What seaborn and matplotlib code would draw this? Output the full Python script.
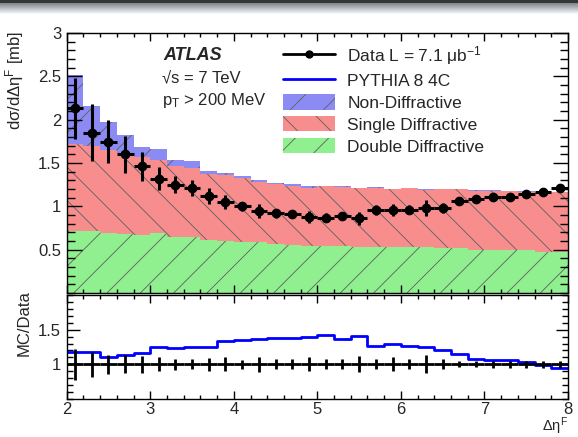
import numpy as np
import matplotlib
matplotlib.use("Agg")
import matplotlib.pyplot as plt
import seaborn as sns
from matplotlib.lines import Line2D
from matplotlib.patches import Patch
from matplotlib.ticker import MultipleLocator, FixedLocator, FuncFormatter

# ---------------- data ----------------
bin_edges = [2.0, 2.2, 2.4, 2.6, 2.8, 3.0, 3.2, 3.4, 3.6, 3.8, 4.0, 4.2, 4.4, 4.6, 4.8,
             5.0, 5.2, 5.4, 5.6, 5.8, 6.0, 6.2, 6.4, 6.6, 6.8, 7.0, 7.2, 7.4, 7.6, 7.8, 8.0]
x_centers = [2.1, 2.3, 2.5, 2.7, 2.9, 3.1, 3.3, 3.5, 3.7, 3.9, 4.1, 4.3, 4.5, 4.7, 4.9,
             5.1, 5.3, 5.5, 5.7, 5.9, 6.1, 6.3, 6.5, 6.7, 6.9, 7.1, 7.3, 7.5, 7.7, 7.9]

# PYTHIA 8 4C components [mb]
double_diff = [0.72, 0.71, 0.69, 0.68, 0.675, 0.69, 0.65, 0.645, 0.61, 0.60, 0.59, 0.585, 0.57, 0.55, 0.545,
               0.54, 0.54, 0.535, 0.535, 0.53, 0.53, 0.525, 0.52, 0.52, 0.50, 0.50, 0.50, 0.50, 0.47, 0.47]
single_diff = [1.00, 0.99, 0.96, 0.94, 0.895, 0.85, 0.81, 0.795, 0.76, 0.76, 0.74, 0.695, 0.69, 0.685, 0.67,
               0.69, 0.685, 0.675, 0.68, 0.67, 0.68, 0.665, 0.68, 0.68, 0.68, 0.68, 0.675, 0.67, 0.695, 0.69]
non_diff = [0.80, 0.46, 0.32, 0.20, 0.12, 0.12, 0.08, 0.08, 0.04, 0.03, 0.02, 0.02, 0.01, 0.02, 0.015,
            0.005, 0.005, 0.005, 0.005, 0.005, 0.005, 0.005, 0.005, 0.005, 0.005, 0.005, 0.005, 0.005, 0.005, 0.005]

# Data
data_val = [2.13, 1.85, 1.745, 1.60, 1.46, 1.32, 1.25, 1.21, 1.12, 1.05, 1.00, 0.95, 0.92, 0.91, 0.88,
            0.87, 0.89, 0.86, 0.96, 0.96, 0.96, 0.98, 0.98, 1.065, 1.085, 1.11, 1.11, 1.14, 1.17, 1.21]
data_err = [0.35, 0.33, 0.25, 0.21, 0.17, 0.13, 0.10, 0.09, 0.09, 0.08, 0.05, 0.08, 0.05, 0.05, 0.07,
            0.05, 0.05, 0.07, 0.06, 0.07, 0.05, 0.09, 0.06, 0.03, 0.03, 0.03, 0.04, 0.04, 0.04, 0.04]

# Ratio panel
mc_over_data = [1.176, 1.176, 1.105, 1.14, 1.16, 1.25, 1.24, 1.257, 1.257, 1.33, 1.35, 1.37, 1.38, 1.38, 1.40,
                1.43, 1.36, 1.41, 1.26, 1.295, 1.26, 1.25, 1.20, 1.15, 1.08, 1.057, 1.057, 1.03, 0.986, 0.94]
ratio_err = [0.22, 0.176, 0.135, 0.13, 0.125, 0.10, 0.08, 0.07, 0.095, 0.10, 0.067, 0.11, 0.07, 0.07, 0.10,
             0.07, 0.07, 0.115, 0.07, 0.10, 0.07, 0.13, 0.07, 0.045, 0.045, 0.055, 0.055, 0.055, 0.055, 0.055]
data_ratio = [1.0] * 30

legend_labels = ["Data L = 7.1 μb$^{-1}$", "PYTHIA 8 4C", "Non-Diffractive",
                 "Single Diffractive", "Double Diffractive"]

# ---------------- style ----------------
sns.set_style("ticks")
plt.rcParams['font.family'] = ['Liberation Sans', 'DejaVu Sans']
plt.rcParams['mathtext.fontset'] = 'custom'
plt.rcParams['mathtext.rm'] = 'Liberation Sans'
plt.rcParams['mathtext.it'] = 'Liberation Sans:italic'
plt.rcParams['mathtext.bf'] = 'Liberation Sans:bold'
plt.rcParams['hatch.linewidth'] = 0.6
plt.rcParams['axes.linewidth'] = 1.0
plt.rcParams['axes.edgecolor'] = 'black'

ND_COL, SD_COL, DD_COL = '#8b8bf3', '#f88d8d', '#90f090'
HATCH_COL = '#5f5f5f'
W, H = 578, 437
gfmt = FuncFormatter(lambda v, p: f'{v:g}')

fig = plt.figure(figsize=(5.78, 4.37), dpi=100)

# decorative dark bar on top of the picture
deco = fig.add_axes([0, 1 - 14 / H, 1, 14 / H])
deco.axis('off')
shade = np.concatenate([np.full(3, 0.22), np.linspace(0.55, 1.0, 11)])
deco.imshow(np.repeat(shade[:, None, None], 3, axis=2) * np.array([0.95, 0.97, 1.0]),
            aspect='auto', extent=[0, 1, 0, 1])

ax = fig.add_axes([66.7 / W, 1 - 293 / H, (568 - 66.7) / W, (293 - 33) / H])
axr = fig.add_axes([66.7 / W, 1 - 399 / H, (568 - 66.7) / W, (399 - 295) / H])

dd_top = np.array(double_diff)
sd_top = dd_top + np.array(single_diff)
nd_top = sd_top + np.array(non_diff)

layers = [(nd_top, ND_COL, '/'), (sd_top, SD_COL, '\\'), (dd_top, DD_COL, '/')]
for top, col, hatch in layers:
    n0 = len(ax.collections)
    sns.histplot(x=x_centers, weights=top, bins=bin_edges, element='step', fill=True,
                 color=col, alpha=1, linewidth=0, ax=ax)
    for coll in ax.collections[n0:]:
        coll.set_facecolor(col)
        coll.set_edgecolor(HATCH_COL)
        coll.set_linewidth(0)
        coll.set_hatch(hatch)

half_w = np.diff(bin_edges) / 2
ax.errorbar(x_centers, data_val, xerr=half_w, yerr=data_err, fmt='o', color='black',
            ms=6, elinewidth=2.2, capsize=0, zorder=5)

ax.set_xlim(2, 8)
ax.set_ylim(0, 3)
ax.set_xlabel('')
ax.set_ylabel('')
ax.yaxis.set_major_locator(FixedLocator([0.5, 1, 1.5, 2, 2.5, 3]))
ax.yaxis.set_major_formatter(gfmt)
ax.yaxis.set_minor_locator(MultipleLocator(0.1))
ax.xaxis.set_major_locator(MultipleLocator(1))
ax.xaxis.set_minor_locator(MultipleLocator(0.2))
ax.tick_params(axis='both', which='both', direction='in', top=True, right=True,
               labelbottom=False, color='black', width=1, labelsize=12, pad=4)
ax.tick_params(axis='y', which='major', length=11)
ax.tick_params(axis='y', which='minor', length=5.5)
ax.tick_params(axis='x', which='major', length=5.5)
ax.tick_params(axis='x', which='minor', length=3)
ax.set_axisbelow(False)
for s in ax.spines.values():
    s.set_zorder(10)

# ratio panel
sns.histplot(x=x_centers, weights=mc_over_data, bins=bin_edges, element='step', fill=False,
             color='#0000ff', linewidth=2, ax=axr)
axr.errorbar(x_centers, data_ratio, xerr=half_w, yerr=ratio_err, fmt='none', ecolor='black',
             elinewidth=2, capsize=0, zorder=5)
axr.set_xlim(2, 8)
axr.set_ylim(0.5, 2)
axr.set_xlabel('')
axr.set_ylabel('')
axr.yaxis.set_major_locator(FixedLocator([1, 1.5]))
axr.yaxis.set_major_formatter(gfmt)
axr.yaxis.set_minor_locator(MultipleLocator(0.1))
axr.xaxis.set_major_locator(MultipleLocator(1))
axr.xaxis.set_major_formatter(gfmt)
axr.xaxis.set_minor_locator(MultipleLocator(0.2))
axr.tick_params(axis='both', which='both', direction='in', top=True, right=True,
                color='black', width=1, labelsize=12, pad=4)
axr.tick_params(axis='x', which='both', pad=2.5)
axr.tick_params(axis='y', which='major', length=9)
axr.tick_params(axis='y', which='minor', length=4.5)
axr.tick_params(axis='x', which='major', length=6)
axr.tick_params(axis='x', which='minor', length=3)

# labels
fig.text(15 / W, 1 - 31 / H, 'dσ/dΔη$^{\\mathrm{F}}$ [mb]', rotation=90, ha='center', va='top', fontsize=12)
fig.text(24 / W, 1 - 290 / H, 'MC/Data', rotation=90, ha='center', va='top', fontsize=12)
fig.text(568 / W, 1 - 431 / H, 'Δη$^{\\mathrm{F}}$', ha='right', va='baseline', fontsize=10.5)

fig.text(163 / W, 1 - 55 / H, 'ATLAS', fontsize=13, fontweight='bold', style='italic', va='center')
fig.text(162 / W, 1 - 78 / H, '√s = 7 TeV', fontsize=12, va='center')
fig.text(162 / W, 1 - 100 / H, 'p$_\\mathrm{T}$ > 200 MeV', fontsize=12, va='center')

handles = [
    Line2D([0], [0], color='black', marker='o', ms=5, lw=2),
    Line2D([0], [0], color='#0000ff', lw=2),
    Patch(facecolor=ND_COL, edgecolor=HATCH_COL, hatch='/', lw=0),
    Patch(facecolor=SD_COL, edgecolor=HATCH_COL, hatch='\\', lw=0),
    Patch(facecolor=DD_COL, edgecolor=HATCH_COL, hatch='/', lw=0),
]
ax.legend(handles, legend_labels, loc='upper left', bbox_to_anchor=(283 / W, 1 - 44 / H),
          bbox_transform=fig.transFigure, frameon=False, fontsize=12.5, handlelength=3.0,
          handleheight=1.0, handletextpad=0.7, labelspacing=0.3, borderpad=0, borderaxespad=0)

fig.savefig('out.png', dpi=100)
